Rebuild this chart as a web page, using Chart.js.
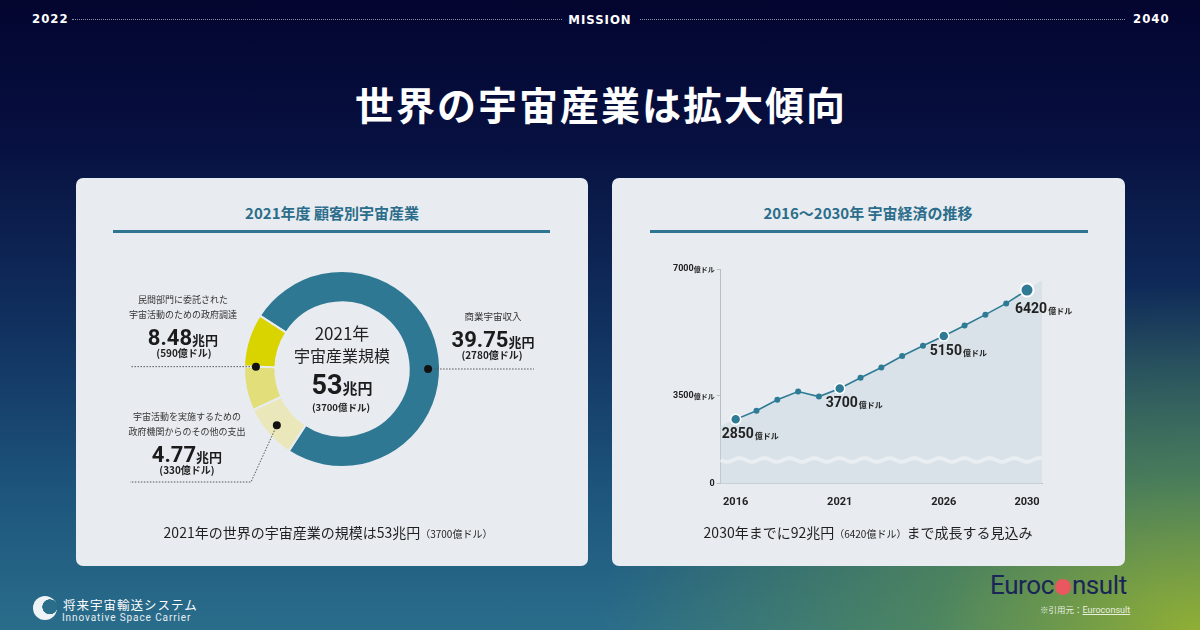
<!DOCTYPE html>
<html lang="ja">
<head>
<meta charset="utf-8">
<title>世界の宇宙産業は拡大傾向</title>
<script src="https://cdn.jsdelivr.net/npm/chart.js@4/dist/chart.umd.min.js"></script>
<style>
  html, body { margin: 0; padding: 0; }
  body {
    width: 1200px; height: 630px; overflow: hidden; position: relative;
    font-family: "Noto Sans CJK JP", "Noto Sans", sans-serif;
    background:
      radial-gradient(ellipse 50% 55% at 100% 100%, rgba(150,178,48,0.95) 0%, rgba(100,150,70,0.6) 45%, rgba(40,100,120,0) 100%),
      linear-gradient(180deg, #03052f 0%, #071040 22%, #11315f 52%, #1d557c 78%, #2a6d8b 100%);
  }
  .abs { position: absolute; white-space: nowrap; }
  .c { transform: translate(-50%, -50%); text-align: center; }
  .hdr { color: #fff; font-family: "DejaVu Sans Condensed", "Roboto", sans-serif; font-weight: bold; font-size: 13px; letter-spacing: 1px; }
  .dots { position: absolute; top: 19px; height: 0; border-top: 1px dotted rgba(255,255,255,0.55); }
  .title { color: #fff; font-weight: 700; font-size: 39px; letter-spacing: 2px; }
  .panel { position: absolute; top: 178px; width: 512px; height: 388px; background: #e8ecf0; border-radius: 7px; }
  .ptitle { color: #2b6d8b; font-weight: 700; font-size: 15px; }
  .rule { position: absolute; top: 230px; height: 3px; background: #2f7591; }
  .num { font-family: "Roboto", sans-serif; font-weight: 700; color: #1b1b1b; }
  .unit { font-weight: 700; color: #1b1b1b; }
  .small { font-size: 9px; color: #333; line-height: 15px; }
  .sub { font-weight: 700; font-size: 10px; color: #222; }
  .cap { font-size: 14px; color: #1f1f1f; }
  .cap span { font-size: 10px; }
  canvas { position: absolute; }
</style>
</head>
<body>

<div class="abs hdr" style="left:32px;top:11px;">2022</div>
<div class="dots" style="left:72px;width:490px;"></div>
<div class="abs hdr c" style="left:600px;top:19px;">MISSION</div>
<div class="dots" style="left:640px;width:485px;"></div>
<div class="abs hdr" style="left:1133px;top:11px;">2040</div>

<div class="abs title c" style="left:601px;top:103px;">世界の宇宙産業は拡大傾向</div>

<div class="panel" style="left:76px;"></div>
<div class="panel" style="left:612px;width:513px;"></div>

<div class="abs ptitle c" style="left:332px;top:212px;">2021年度 顧客別宇宙産業</div>
<div class="rule" style="left:113px;width:437px;"></div>
<div class="abs ptitle c" style="left:868px;top:212px;">2016〜2030年 宇宙経済の推移</div>
<div class="rule" style="left:650px;width:438px;"></div>

<canvas id="donut" width="512" height="388" style="left:76px;top:178px;"></canvas>
<canvas id="trend" width="513" height="388" style="left:612px;top:178px;"></canvas>

<!-- donut centre -->
<div class="abs c" style="left:342px;top:332px;font-size:17px;color:#222;">2021年</div>
<div class="abs c" style="left:342px;top:355px;font-size:16px;color:#222;">宇宙産業規模</div>
<div class="abs c" style="left:342px;top:385px;"><span class="num" style="font-size:27px;">53</span><span class="unit" style="font-size:15px;">兆円</span></div>
<div class="abs c sub" style="left:341px;top:407px;font-size:9.5px;">(3700億ドル)</div>

<!-- donut labels -->
<div class="abs c small" style="left:183px;top:307px;">民間部門に委託された<br>宇宙活動のための政府調達</div>
<div class="abs c" style="left:183px;top:337px;"><span class="num" style="font-size:22px;">8.48</span><span class="unit" style="font-size:13px;">兆円</span></div>
<div class="abs c sub" style="left:184px;top:352px;">(590億ドル)</div>

<div class="abs c small" style="left:187px;top:424px;">宇宙活動を実施するための<br>政府機関からのその他の支出</div>
<div class="abs c" style="left:187px;top:454px;"><span class="num" style="font-size:22px;">4.77</span><span class="unit" style="font-size:13px;">兆円</span></div>
<div class="abs c sub" style="left:187px;top:469px;">(330億ドル)</div>

<div class="abs c small" style="left:493px;top:316px;font-size:9.5px;">商業宇宙収入</div>
<div class="abs c" style="left:493px;top:339px;"><span class="num" style="font-size:22px;">39.75</span><span class="unit" style="font-size:13px;">兆円</span></div>
<div class="abs c sub" style="left:492px;top:354px;">(2780億ドル)</div>

<div class="abs c cap" style="left:328px;top:532px;">2021年の世界の宇宙産業の規模は53兆円<span>（3700億ドル）</span></div>
<div class="abs c cap" style="left:868px;top:532px;">2030年までに92兆円<span>（6420億ドル）</span>まで成長する見込み</div>

<!-- footer -->
<div class="abs" style="left:33px;top:596px;width:24px;height:24px;border-radius:50%;background:radial-gradient(circle at 70% 45%, rgba(42,110,140,1) 0 34%, rgba(255,255,255,0.92) 36% 100%);"></div>
<div class="abs" style="left:63px;top:595px;color:#fff;font-size:12.5px;letter-spacing:1px;">将来宇宙輸送システム</div>
<div class="abs" style="left:62px;top:612px;color:#e8eef2;font-size:10px;font-family:'Roboto',sans-serif;letter-spacing:0.9px;">Innovative Space Carrier</div>

<div class="abs" style="left:990px;top:570px;color:#1a2557;font-size:26px;font-family:'Roboto',sans-serif;letter-spacing:-0.4px;">Euroc<span style="display:inline-block;width:16px;height:16px;border-radius:50%;background:#e9575f;vertical-align:-1px;margin:0 1px;"></span>nsult</div>
<div class="abs" style="left:1040px;top:603px;color:#e9efe0;font-size:8.5px;">※引用元：<span style="text-decoration:underline;font-family:'Roboto',sans-serif;font-size:9px;">Euroconsult</span></div>

<script>
// ---- 2021 donut ----
var segmentNames = ['商業宇宙収入', '政府機関からのその他の支出', '政府調達（前半）', '政府調達（後半）'];
var segmentValues = [39.75, 4.77, 3.85, 4.63];
var segmentColors = ['#2e7893', '#eae8bb', '#e2de79', '#d9d300'];

// ---- 2016-2030 trend ----
var years = [2016, 2017, 2018, 2019, 2020, 2021, 2022, 2023, 2024, 2025, 2026, 2027, 2028, 2029, 2030];
var spaceEconomy = [2850, 3090, 3390, 3620, 3480, 3700, 4000, 4280, 4600, 4880, 5150, 5440, 5740, 6050, 6420];
var xTickYears = [2016, 2021, 2026, 2030];
var yTickValues = [0, 3500, 7000];
var labelledYears = [2016, 2021, 2026, 2030];

var yBottom = 1080; // broken axis: "0" sits at the bottom
var breakValue = 1730;
var teal = '#2f7b96';

var donutMarks = {
    id: 'donutMarks',
    afterDraw: function (chart) {
        var arcs = chart.getDatasetMeta(0).data;
        var ctx = chart.ctx;
        var cx = arcs[0].x, cy = arcs[0].y;
        var r = arcs[0].innerRadius + (arcs[0].outerRadius - arcs[0].innerRadius) * 0.62;
        var at = function (a) { return [cx + Math.cos(a) * r, cy + Math.sin(a) * r]; };
        var p1 = at(0);
        var p2 = at(arcs[3].startAngle);
        var p3 = at((arcs[1].startAngle + arcs[1].endAngle) / 2);
        ctx.save();
        ctx.strokeStyle = '#555';
        ctx.lineWidth = 1;
        ctx.setLineDash([1.5, 1.5]);
        ctx.beginPath();
        ctx.moveTo(p1[0], p1[1]); ctx.lineTo(458, p1[1]);
        ctx.moveTo(p2[0], p2[1]); ctx.lineTo(54, p2[1]);
        ctx.moveTo(p3[0], p3[1]); ctx.lineTo(175, 304); ctx.lineTo(54, 304);
        ctx.stroke();
        ctx.setLineDash([]);
        ctx.fillStyle = '#111';
        [p1, p2, p3].forEach(function (p) {
            ctx.beginPath(); ctx.arc(p[0], p[1], 4, 0, Math.PI * 2); ctx.fill();
        });
        ctx.restore();
    }
};

new Chart(document.getElementById('donut'), {
    type: 'doughnut',
    data: {
        labels: segmentNames,
        datasets: [{
            data: segmentValues,
            backgroundColor: segmentColors,
            borderColor: '#e8ecf0',
            borderWidth: 2
        }]
    },
    options: {
        responsive: false,
        animation: false,
        rotation: -57,
        cutout: '68%',
        layout: { padding: { left: 167, right: 147, top: 92, bottom: 98 } },
        plugins: { legend: { display: false }, tooltip: { enabled: false } }
    },
    plugins: [donutMarks]
});

var areaFill = {
    id: 'areaFill',
    beforeDatasetsDraw: function (chart) {
        var pts = chart.getDatasetMeta(0).data;
        var a = chart.chartArea, ctx = chart.ctx;
        var n = pts.length;
        var s0 = (pts[1].y - pts[0].y) / (pts[1].x - pts[0].x);
        var s1 = (pts[n - 1].y - pts[n - 2].y) / (pts[n - 1].x - pts[n - 2].x);
        ctx.save();
        ctx.fillStyle = '#d9e2e8';
        ctx.beginPath();
        ctx.moveTo(a.left, a.bottom);
        ctx.lineTo(a.left, pts[0].y - (pts[0].x - a.left) * s0);
        pts.forEach(function (p) { ctx.lineTo(p.x, p.y); });
        ctx.lineTo(a.right, pts[n - 1].y + (a.right - pts[n - 1].x) * s1);
        ctx.lineTo(a.right, a.bottom);
        ctx.closePath();
        ctx.fill();
        // wavy break band
        var wy = chart.scales.y.getPixelForValue(breakValue);
        ctx.strokeStyle = '#e8eef2';
        ctx.lineWidth = 4;
        ctx.beginPath();
        for (var x = a.left; x <= a.right; x += 1) {
            var y = wy + Math.sin((x - a.left) / 25 * Math.PI * 2) * 1.8;
            if (x === a.left) ctx.moveTo(x, y); else ctx.lineTo(x, y);
        }
        ctx.stroke();
        ctx.restore();
    },
    afterDraw: function (chart) {
        var ctx = chart.ctx;
        var ys = chart.scales.y;
        ctx.save();
        ctx.fillStyle = '#222';
        ctx.textBaseline = 'middle';
        // y tick labels, number + small unit
        ys.ticks.forEach(function (t, i) {
            var py = ys.getPixelForValue(t.value);
            var num = String(yTickValues[i]);
            var unit = yTickValues[i] === 0 ? '' : '億ドル';
            ctx.font = 'bold 7px "Noto Sans CJK JP"';
            var uw = ctx.measureText(unit).width;
            var right = ys.right - 6;
            ctx.textAlign = 'right';
            ctx.fillText(unit, right, py + 0.5);
            ctx.font = 'bold 9px Roboto';
            ctx.fillText(num, right - uw, py);
        });
        // value labels
        var pts = chart.getDatasetMeta(0).data;
        ctx.textAlign = 'left';
        years.forEach(function (yr, i) {
            if (labelledYears.indexOf(yr) < 0) return;
            var p = pts[i];
            var big = yr === years[years.length - 1];
            var lx = p.x - (big ? 12 : 14);
            var ly = p.y + (big ? 19 : 15);
            ctx.font = 'bold 14px Roboto';
            var txt = String(spaceEconomy[i]);
            ctx.fillText(txt, lx, ly);
            var w = ctx.measureText(txt).width;
            ctx.font = 'bold 8px "Noto Sans CJK JP"';
            ctx.fillText('億ドル', lx + w + 1, ly + 1.5);
        });
        ctx.restore();
    }
};

var isLabelled = function (c) { return labelledYears.indexOf(years[c.dataIndex]) >= 0; };
var isLast = function (c) { return c.dataIndex === years.length - 1; };

new Chart(document.getElementById('trend'), {
    type: 'line',
    data: {
        datasets: [{
            data: years.map(function (y, i) { return { x: y, y: spaceEconomy[i] }; }),
            borderColor: teal,
            borderWidth: 1.6,
            backgroundColor: teal,
            fill: false,
            tension: 0,
            pointRadius: function (c) { return isLast(c) ? 6.5 : (isLabelled(c) ? 5 : 3); },
            pointBorderWidth: function (c) { return isLast(c) ? 2 : (isLabelled(c) ? 1.5 : 0); },
            pointBorderColor: function (c) { return isLabelled(c) ? '#ffffff' : teal; },
            pointBackgroundColor: teal
        }]
    },
    options: {
        responsive: false,
        animation: false,
        layout: { padding: { left: 0, right: 83, top: 91, bottom: 0 } },
        plugins: { legend: { display: false }, tooltip: { enabled: false } },
        scales: {
            x: {
                type: 'linear',
                min: 2015.28,
                max: 2030.72,
                afterBuildTicks: function (s) { s.ticks = xTickYears.map(function (v) { return { value: v }; }); },
                ticks: {
                    callback: function (v) { return String(v); },
                    font: { family: 'Roboto', weight: 'bold', size: 11 },
                    color: '#222',
                    padding: 4,
                    maxRotation: 0
                },
                grid: { display: false },
                border: { display: true, color: '#b6bdc3', width: 1 },
                afterFit: function (s) { s.height = 82.5; }
            },
            y: {
                min: yBottom,
                max: 7000,
                afterBuildTicks: function (s) {
                    s.ticks = yTickValues.map(function (v) { return { value: v === 0 ? yBottom : v }; });
                },
                ticks: { display: false },
                grid: { drawOnChartArea: false, drawTicks: true, tickLength: 4, color: '#b6bdc3' },
                border: { display: true, color: '#b6bdc3', width: 1 },
                afterFit: function (s) { s.width = 108.7; }
            }
        }
    },
    plugins: [areaFill]
});
</script>
</body>
</html>
